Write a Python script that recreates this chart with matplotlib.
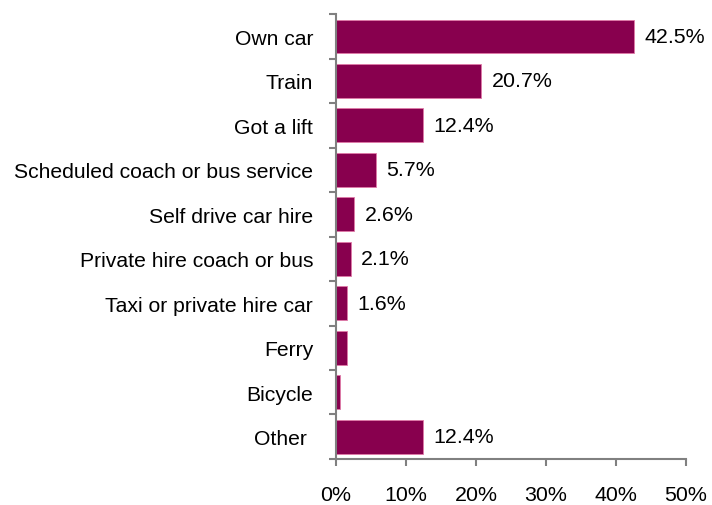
import numpy as np
import matplotlib.pyplot as plt

categories = ["Own car", "Train", "Got a lift", "Scheduled coach or bus service",
              "Self drive car hire", "Private hire coach or bus",
              "Taxi or private hire car", "Ferry", "Bicycle", "Other "]
values = [42.5, 20.7, 12.4, 5.7, 2.6, 2.1, 1.6, 1.6, 0.5, 12.4]
labels = ["42.5%", "20.7%", "12.4%", "5.7%", "2.6%", "2.1%", "1.6%", "", "", "12.4%"]
xticks = [0, 10, 20, 30, 40, 50]


def main():
    plt.rcParams["font.family"] = ["Liberation Sans", "DejaVu Sans"]
    fig = plt.figure(figsize=(7.12, 5.06), dpi=100)
    ax = fig.add_axes([0.472, 0.091, 0.4915, 0.879])

    y = np.arange(len(categories))
    ax.barh(y, values, height=0.76, color="#88004e", edgecolor="#e07aa8", linewidth=0.6)
    for yi, v, lab in zip(y, values, labels):
        if lab:
            ax.text(v + 1.5, yi, lab, va="center", ha="left", fontsize=15.4)

    ax.set_ylim(len(categories) - 0.5, -0.5)
    ax.set_xlim(0, 50)
    ax.set_yticks(y)
    ax.set_yticklabels(categories, fontsize=15.2)
    ax.set_yticks(np.arange(-0.5, len(categories)), minor=True)
    ax.tick_params(axis="y", which="major", length=0, pad=16.5)
    ax.tick_params(axis="y", which="minor", length=5, color="#808080", width=1.5)
    ax.set_xticks(xticks)
    ax.set_xticklabels([f"{t}%" for t in xticks], fontsize=15.4)
    ax.tick_params(axis="x", length=5, color="#808080", width=1.5, pad=14)

    for side in ("top", "right"):
        ax.spines[side].set_visible(False)
    for side in ("left", "bottom"):
        ax.spines[side].set_color("#808080")
        ax.spines[side].set_linewidth(1.5)

    fig.savefig("out.png", dpi=100)


if __name__ == "__main__":
    main()
